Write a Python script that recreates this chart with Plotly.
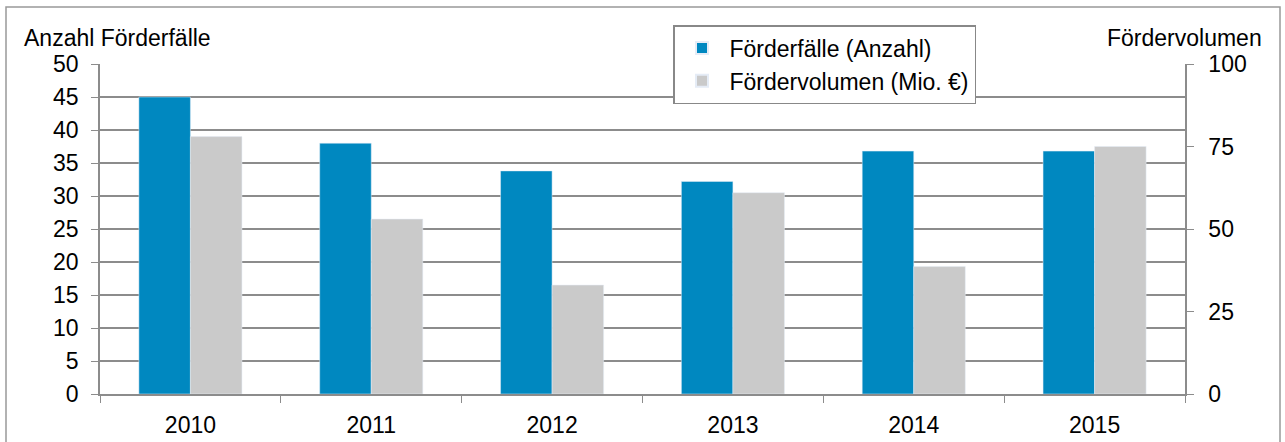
import plotly.graph_objects as go

years = ["2010", "2011", "2012", "2013", "2014", "2015"]
faelle = [45, 38, 33.8, 32.2, 36.8, 36.8]
volumen = [78, 53, 33, 61, 38.6, 75]

name_faelle = "Förderfälle (Anzahl)"
name_volumen = "Fördervolumen (Mio. €)"
left_title = "Anzahl Förderfälle"
right_title = "Fördervolumen"

FONT = "Liberation Sans, Arial, sans-serif"
GRID = "#8c8c8c"
FS = 23

fig = go.Figure()
fig.add_trace(go.Bar(x=years, y=faelle, name=name_faelle, marker_color="#0088C0",
                     offsetgroup="a", yaxis="y"))
fig.add_trace(go.Bar(x=years, y=volumen, name=name_volumen, marker_color="#CACACA",
                     offsetgroup="b", yaxis="y2"))

fig.update_layout(
    width=1285, height=442,
    margin=dict(l=100, r=100, t=64, b=48, autoexpand=False),
    paper_bgcolor="white", plot_bgcolor="white",
    font=dict(family=FONT, size=FS, color="#000"),
    barmode="group", bargap=0.43, bargroupgap=0,
    showlegend=True,
    legend=dict(x=(673 - 100) / 1085, xanchor="left", y=1.0 + (64 - 25) / 330, yanchor="top",
                bgcolor="white", bordercolor="#888", borderwidth=1.5,
                font=dict(size=FS), itemsizing="constant", tracegroupgap=0,
                itemwidth=45, traceorder="normal"),
    xaxis=dict(showline=True, linecolor=GRID, linewidth=1.5, ticks="outside",
               tickson="boundaries", ticklen=7, tickcolor=GRID, ticklabelstandoff=10,
               showgrid=False, tickfont=dict(size=FS)),
    yaxis=dict(range=[0, 50], dtick=5, showline=True, linecolor=GRID, linewidth=1.5,
               ticks="outside", ticklen=7, tickcolor=GRID, showgrid=True, ticklabelstandoff=8,
               gridcolor=GRID, gridwidth=1.5, zeroline=False, tickfont=dict(size=FS)),
    yaxis2=dict(range=[0, 100], dtick=25, overlaying="y", side="right",
                showline=True, linecolor=GRID, linewidth=1.5, ticks="outside",
                ticklen=7, tickcolor=GRID, showgrid=False, zeroline=False, ticklabelstandoff=10,
                tickfont=dict(size=FS)),
)

fig.add_annotation(text=left_title, xref="paper", yref="paper",
                   x=(22 - 100) / 1085, xanchor="left", y=1.0 + (64 - 38) / 330, yanchor="middle",
                   showarrow=False, font=dict(size=FS))
fig.add_annotation(text=right_title, xref="paper", yref="paper",
                   x=1.0 + (1264 - 1185) / 1085, xanchor="right", y=1.0 + (64 - 38) / 330,
                   yanchor="middle", showarrow=False, font=dict(size=FS))

fig.add_shape(type="rect", xref="paper", yref="paper",
              x0=(6 - 100) / 1085, x1=(1280 - 100) / 1085,
              y0=-0.2, y1=1.0 + (64 - 7) / 330,
              line=dict(color="#999", width=1.5), layer="below")

fig.write_html("out.html", config={"displayModeBar": False},
               post_script="document.body.style.margin='0';document.body.style.overflow='hidden';")
